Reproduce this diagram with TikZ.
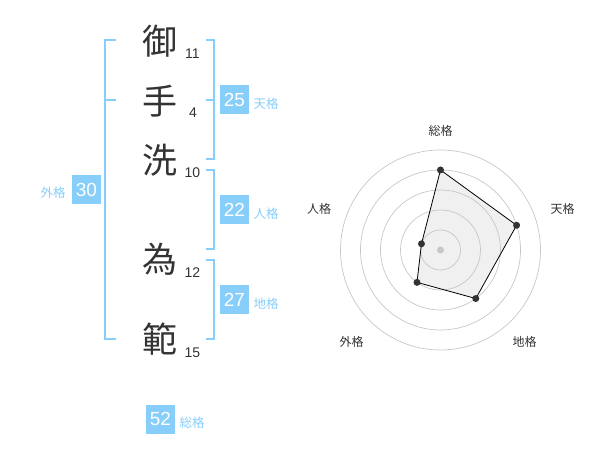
\documentclass[tikz,border=0pt]{standalone}
\usepackage{fontspec}
\setmainfont{Liberation Sans}
\newfontfamily\jp{Noto Sans CJK JP}
\definecolor{sky}{HTML}{87CEFA}
\definecolor{ink}{HTML}{333333}

\begin{document}
\begin{tikzpicture}[x=1pt,y=-1pt,
	bracket/.style={draw=sky, line width=2pt},
	kanji/.style={text=ink, inner sep=0, font=\jp\fontsize{35}{35}\selectfont},
	strokes/.style={text=ink, inner sep=0, font=\fontsize{14}{14}\selectfont},
	scorebox/.style={fill=sky, text=white, inner sep=0, minimum size=29, font=\fontsize{19}{19}\selectfont},
	kaku/.style={text=sky, inner sep=0, font=\jp\fontsize{12.5}{12.5}\selectfont},
	axislabel/.style={text=ink, inner sep=0, font=\jp\fontsize{12}{12}\selectfont},
	ring/.style={draw=black!22, line width=0.7pt},
	dot/.style={circle, fill=ink, inner sep=0, minimum size=7}]
	\useasboundingbox (0,0) rectangle (600,470);
	% name
	\node [kanji] (mi) at (160,41) {御};
	\node [kanji] (te) at (160,101) {手};
	\node [kanji] (arai) at (160,160) {洗};
	\node [kanji] (tame) at (160,259) {為};
	\node [kanji] (nori) at (160,339) {範};
	\node [strokes] (mi n) at (192.5,53.3) {11};
	\node [strokes] (te n) at (193,113) {4};
	\node [strokes] (arai n) at (192.5,172.7) {10};
	\node [strokes] (tame n) at (192.5,272.7) {12};
	\node [strokes] (nori n) at (192.5,352.7) {15};
	% brackets
	\draw [bracket] (116,40) -- (105,40) -- (105,339) -- (116,339);
	\draw [bracket] (105,100) -- (116,100);
	\draw [bracket] (206,40) -- (214,40) -- (214,159) -- (206,159);
	\draw [bracket] (206,100) -- (214,100);
	\draw [bracket] (206,170) -- (214,170) -- (214,249) -- (206,249);
	\draw [bracket] (206,260) -- (214,260) -- (214,339) -- (206,339);
	% scores
	\node [scorebox] (ten) at (234.5,100) {25};
	\node [kaku] at (266,104) {天格};
	\node [scorebox] (jin) at (234.5,210) {22};
	\node [kaku] at (266,214) {人格};
	\node [scorebox] (chi) at (234.5,300) {27};
	\node [kaku] at (266,304) {地格};
	\node [scorebox] (gai) at (86.5,190) {30};
	\node [kaku] at (53,193) {外格};
	\node [scorebox] (sou) at (160.5,419) {52};
	\node [kaku] at (192,423) {総格};
		\begin{scope}[shift={(440.5,250)}, y=1pt]
			\coordinate (p sou) at (90:80);
			\coordinate (p ten) at (18:80);
			\coordinate (p chi) at (-54:60);
			\coordinate (p gai) at (-126:40);
			\coordinate (p jin) at (162:20);
			\fill [black!6] (p sou) -- (p ten) -- (p chi) -- (p gai) -- (p jin) -- cycle;
			\foreach \r in {20,40,...,100}
				\draw [ring] (0,0) circle (\r);
			\draw [line width=0.8pt] (p sou) -- (p ten) -- (p chi) -- (p gai) -- (p jin) -- cycle;
			\fill [black!22] (0,0) circle (3.5);
			\foreach \p in {sou,ten,chi,gai,jin}
				\node [dot] at (p \p) {};
			\node [axislabel] (l sou) at (0,119.5) {総格};
			\node [axislabel] (l ten) at (122,41.5) {天格};
			\node [axislabel] (l chi) at (84,-91.5) {地格};
			\node [axislabel] (l gai) at (-89,-91.5) {外格};
			\node [axislabel] (l jin) at (-121.5,41.5) {人格};
		\end{scope}
\end{tikzpicture}
\end{document}
